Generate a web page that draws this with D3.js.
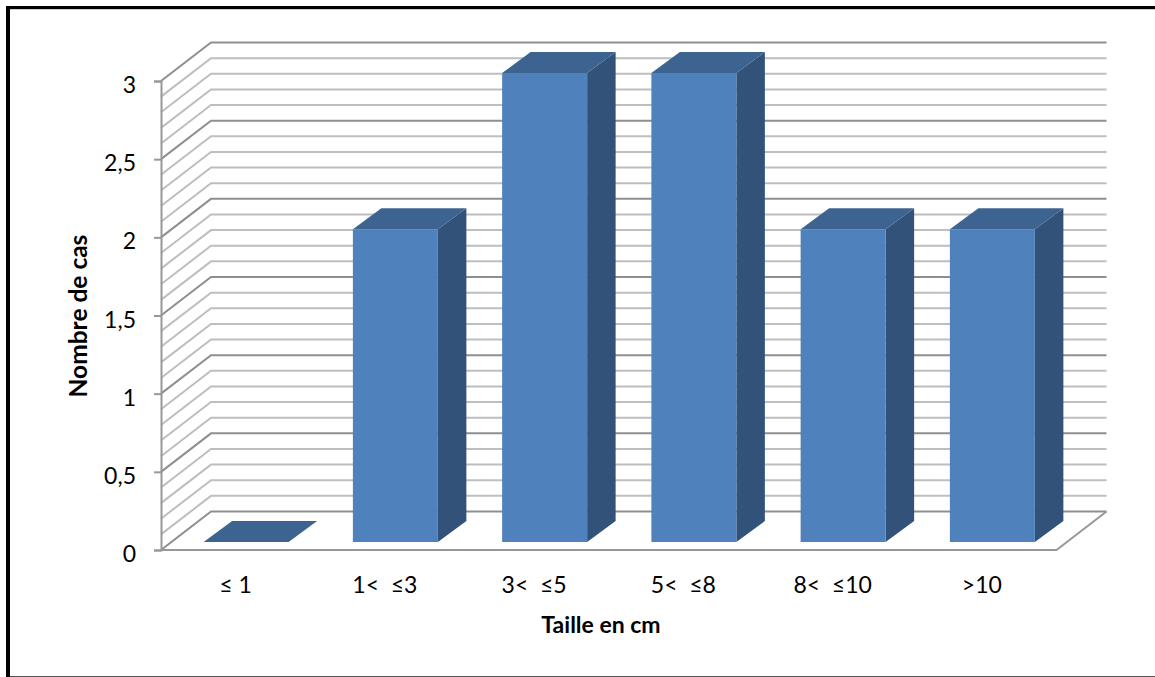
<!DOCTYPE html>
<html lang="fr">
<head>
<meta charset="utf-8">
<script src="https://cdn.jsdelivr.net/npm/d3@7"></script>
<style>
  html, body { margin: 0; padding: 0; background: #fff; }
  svg { display: block; }
  text { font-family: Lato, "Open Sans", sans-serif; fill: #000; }
</style>
</head>
<body>
<svg id="chart" width="1155" height="677"></svg>
<script>
// Tumour size distribution
const categories = ["≤ 1", "1<  ≤3", "3<  ≤5", "5<  ≤8", "8<  ≤10", ">10"];
const cases = [0, 2, 3, 3, 2, 2];
const yTicks = [0, 0.5, 1, 1.5, 2, 2.5, 3];
const gridValues = d3.range(0, 31).map(i => i / 10);
const xTitle = "Taille en cm";
const yTitle = "Nombre de cas";

const svg = d3.select("#chart");
const x = d3.scaleBand().domain(categories).range([161, 1056.5]);
const y = d3.scaleLinear().domain([0, 3]).range([550, 81]);

// Oblique projection used for the back wall and for the bar depth
const wall = { dx: 50, dy: -38.5 };
const barInset = { dx: 10.5, dy: -8 };
const barDepth = { dx: 28.5, dy: -21 };
const barWidth = 85;

const GRID_MAJOR = "#8f8f8f", GRID_MINOR = "#bebebe", AXIS = "#989898";

// Frame around the figure
svg.append("rect").attr("x", 6).attr("y", 6).attr("width", 4).attr("height", 671).attr("fill", "#000");
svg.append("rect").attr("x", 6).attr("y", 6).attr("width", 1149).attr("height", 3).attr("fill", "#000");
svg.append("rect").attr("x", 10).attr("y", 9).attr("width", 1145).attr("height", 1).attr("fill", "#ccc");
svg.append("rect").attr("x", 10).attr("y", 676).attr("width", 1145).attr("height", 1).attr("fill", "#555");

// Gridlines run along the side wall, then along the back wall
const grid = svg.append("g").attr("fill", "none");
grid.selectAll("path").data(gridValues).join("path")
  .attr("d", v => {
    const p = d3.path();
    const x0 = x.range()[0], x1 = x.range()[1];
    p.moveTo(x0, y(v));
    p.lineTo(x0 + wall.dx, y(v) + wall.dy);
    p.lineTo(x1 + wall.dx, y(v) + wall.dy);
    return p.toString();
  })
  .attr("stroke", v => Math.round(v * 10) % 5 === 0 ? GRID_MAJOR : GRID_MINOR)
  .attr("stroke-width", 2);

// Floor edges
const [floorLeft, floorRight] = x.range();
svg.append("path")
  .attr("d", `M${floorLeft},${y(0)}L${floorRight},${y(0)}L${floorRight + wall.dx},${y(0) + wall.dy}`)
  .attr("fill", "none").attr("stroke", AXIS).attr("stroke-width", 2);

// Value axis with outward ticks
const yAxis = d3.axisLeft(y).tickValues(yTicks).tickSize(7).tickPadding(18)
  .tickFormat(d => String(d).replace(".", ","));
const axisG = svg.append("g").attr("transform", `translate(${floorLeft},0)`).call(yAxis);
axisG.select(".domain").attr("stroke", AXIS).attr("stroke-width", 2);
axisG.selectAll(".tick line").attr("stroke", AXIS).attr("stroke-width", 2);
axisG.selectAll(".tick text").attr("font-size", 23).attr("font-family", "Lato, sans-serif")
  .attr("fill", "#000").attr("dy", "0.5em");

// Bars: side and top faces, then the front
const bars = svg.append("g").selectAll("g").data(categories.map((c, i) => ({ c, v: cases[i] }))).join("g");
const barLeft = d => x(d.c) + x.bandwidth() / 2 + barInset.dx - barWidth / 2;
const barBase = y(0) + barInset.dy;
const barTop = d => y(d.v) + barInset.dy;

bars.filter(d => d.v > 0).append("path")
  .attr("fill", "#32527a")
  .attr("d", d => {
    const r = barLeft(d) + barWidth;
    return `M${r},${barTop(d)}L${r + barDepth.dx},${barTop(d) + barDepth.dy}L${r + barDepth.dx},${barBase + barDepth.dy}L${r},${barBase}Z`;
  });
bars.append("path")
  .attr("fill", "#3d6491")
  .attr("d", d => {
    const l = barLeft(d), r = l + barWidth, t = barTop(d);
    return `M${l},${t}L${r},${t}L${r + barDepth.dx},${t + barDepth.dy}L${l + barDepth.dx},${t + barDepth.dy}Z`;
  });
bars.filter(d => d.v > 0).append("rect")
  .attr("fill", "#4f81bd")
  .attr("x", barLeft)
  .attr("y", barTop)
  .attr("width", barWidth)
  .attr("height", d => barBase - barTop(d));

// Category labels
svg.append("g").selectAll("text").data(categories).join("text")
  .attr("x", d => x(d) + x.bandwidth() / 2)
  .attr("y", 593)
  .attr("text-anchor", "middle")
  .attr("font-size", 23)
  .style("white-space", "pre")
  .text(d => d);

// Axis titles
svg.append("text").attr("x", 601).attr("y", 633).attr("text-anchor", "middle")
  .attr("font-size", 23).attr("font-weight", 700).text(xTitle);
svg.append("text").attr("transform", "translate(87,316) rotate(-90)").attr("text-anchor", "middle")
  .attr("font-size", 24.5).attr("font-weight", 700).text(yTitle);
</script>
</body>
</html>
